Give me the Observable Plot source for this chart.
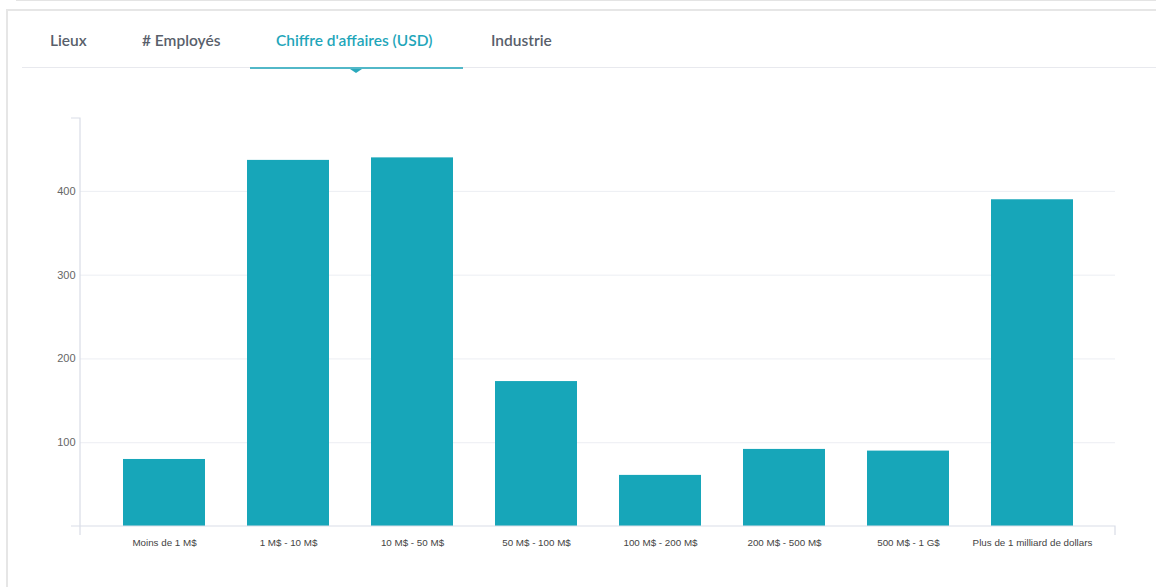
<!DOCTYPE html>
<html>
<head>
<meta charset="utf-8">
<script src="https://cdn.jsdelivr.net/npm/d3@7"></script>
<script src="https://cdn.jsdelivr.net/npm/@observablehq/plot@0.6"></script>
<style>
  html, body { margin: 0; padding: 0; background: #fff; width: 1156px; height: 587px; overflow: hidden; }
  #topline { position: absolute; left: 16px; top: 0; width: 1140px; height: 1px; background: #e4e4e4; }
  #card { position: absolute; left: 6px; top: 9px; width: 1160px; height: 600px; border-top: 2px solid #e6e6e6; border-left: 2px solid #e6e6e6; }
  #tabline { position: absolute; left: 22px; top: 67px; width: 1134px; height: 1px; background: #e8e9ee; }
  .tab { position: absolute; top: 31px; font-family: Lato, sans-serif; font-weight: 600; font-size: 15.5px; color: #595f6b; white-space: nowrap; }
  .tab.active { color: #1fa6ba; }
  #underline { position: absolute; left: 250px; top: 67px; width: 213px; height: 2px; background: #52b8c8; }
  #tri { position: absolute; left: 350px; top: 69px; width: 0; height: 0; border-left: 6px solid transparent; border-right: 6px solid transparent; border-top: 4px solid #2aa9bc; }
  #chart { position: absolute; left: 0; top: 80px; }
</style>
</head>
<body>
<div id="topline"></div>
<div id="card"></div>
<div id="tabline"></div>
<div class="tab" style="left:50px">Lieux</div>
<div class="tab" style="left:142px"># Employés</div>
<div class="tab active" style="left:276px">Chiffre d'affaires (USD)</div>
<div class="tab" style="left:491px">Industrie</div>
<div id="underline"></div>
<div id="tri"></div>
<div id="chart"></div>
<script>
const categories = ["Moins de 1 M$", "1 M$ - 10 M$", "10 M$ - 50 M$", "50 M$ - 100 M$", "100 M$ - 200 M$", "200 M$ - 500 M$", "500 M$ - 1 G$", "Plus de 1 milliard de dollars"];
const values = [80, 437, 440, 173, 61, 92, 90, 390];
const yTicks = [100, 200, 300, 400];

const data = categories.map((c, i) => ({category: c, value: values[i]}));

const plot = Plot.plot({
  width: 1156,
  height: 480,
  marginLeft: 80,
  marginRight: 41,
  marginTop: 38,
  marginBottom: 34,
  style: { fontFamily: "'Liberation Sans', Arial, sans-serif", background: "transparent" },
  x: { domain: categories, padding: 0.34, label: null },
  y: { domain: [0, 487], label: null },
  marks: [
    Plot.gridY(yTicks, { stroke: "#eceef3", strokeOpacity: 1, strokeWidth: 1 }),
    Plot.barY(data, { x: "category", y: "value", fill: "#17a6b9" }),
    Plot.axisY(yTicks, { tickSize: 0, tickPadding: 5, fontSize: 11, fill: "#666", label: null }),
    Plot.axisX({ tickSize: 0, tickPadding: 13, fontSize: 9.8, fill: "#444", label: null })
  ]
});

document.getElementById("chart").appendChild(plot);

// axis domain lines (d3-style with outer ticks)
const ys = plot.scale("y");
const svg = d3.select(plot);
const x0 = 80, x1 = 1156 - 41;
const yTop = ys.apply(487), yBase = ys.apply(0);
const g = svg.append("g").attr("fill", "none").attr("stroke", "#d9dde7").attr("stroke-width", 1.2);
g.append("path").attr("d", `M${x0 - 9},${yTop}H${x0}V${yBase + 9}`);
g.append("path").attr("d", `M${x0 - 9},${yBase}H${x1}V${yBase + 9}`);
</script>
</body>
</html>
